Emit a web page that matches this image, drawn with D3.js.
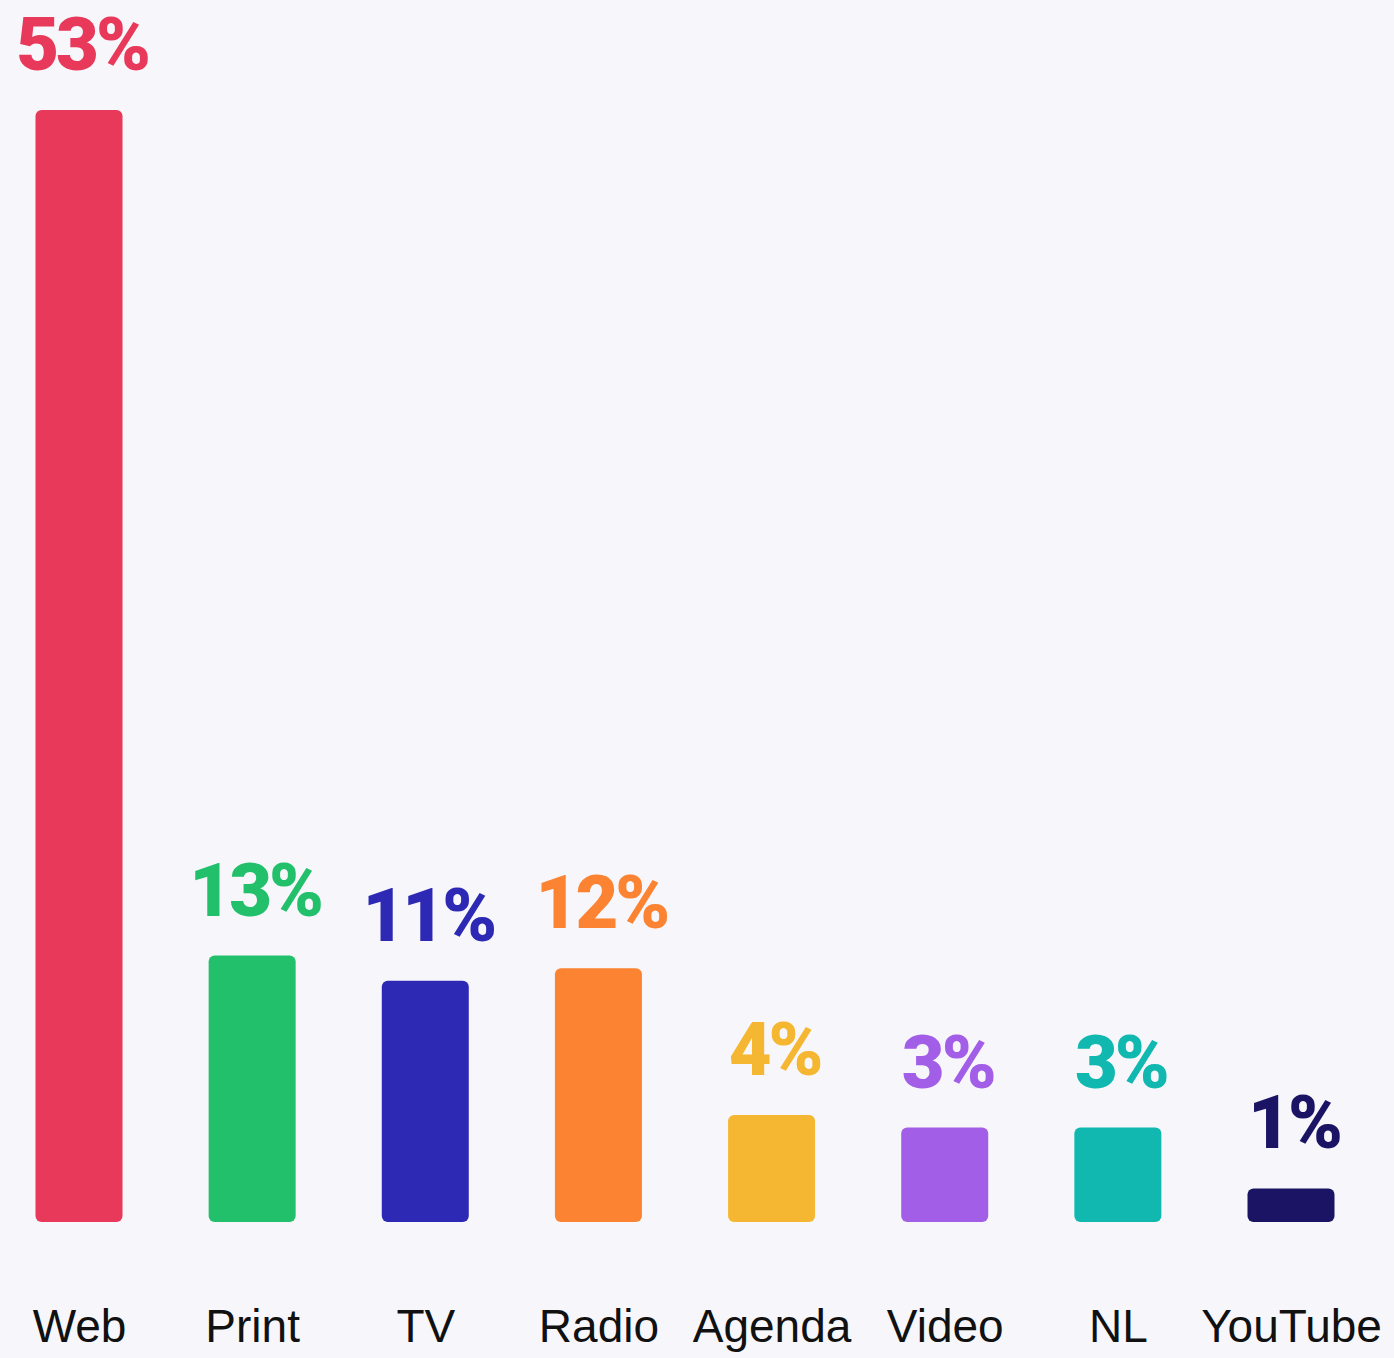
<!DOCTYPE html>
<html>
<head>
<meta charset="utf-8">
<script src="https://cdn.jsdelivr.net/npm/d3@7"></script>
<style>
  html, body { margin: 0; padding: 0; background: #F7F7FB; }
  svg { display: block; }
</style>
</head>
<body>
<svg id="chart" width="1394" height="1358"></svg>
<script>
const categories = ["Web", "Print", "TV", "Radio", "Agenda", "Video", "NL", "YouTube"];
// bar lengths (percent)
const values = [53, 12.7, 11.5, 12.1, 5.1, 4.5, 4.5, 1.6];
// value labels as printed above each bar
const valueLabels = ["53%", "13%", "11%", "12%", "4%", "3%", "3%", "1%"];
const colors = ["#E8395A", "#22C06B", "#2D29B5", "#FB8331", "#F5B731", "#A25EE6", "#10B8B0", "#1B1464"];

const svg = d3.select("#chart");
const baseline = 1222, topY = 110;
const barW = 87;

const x = d3.scalePoint().domain(categories).range([79, 1291]);
const y = d3.scaleLinear().domain([0, 53]).range([baseline, topY]);

const data = categories.map((c, i) => ({ c, v: values[i], label: valueLabels[i], color: colors[i] }));

svg.append("g").selectAll("rect").data(data).join("rect")
  .attr("x", d => x(d.c) - barW / 2)
  .attr("y", d => y(d.v))
  .attr("width", barW)
  .attr("height", d => baseline - y(d.v))
  .attr("rx", 6).attr("ry", 6)
  .attr("fill", d => d.color);

svg.append("g").selectAll("text").data(data).join("text")
  .attr("x", d => x(d.c) + 3)
  .attr("y", d => y(d.v) - 40)
  .attr("text-anchor", "middle")
  .attr("fill", d => d.color)
  .style("font-family", "Roboto, 'Liberation Sans', sans-serif")
  .style("font-weight", 900)
  .style("font-size", "74px")
  .style("letter-spacing", "-3px")
  .text(d => d.label);

const xAxis = d3.axisBottom(x).tickSize(0).tickPadding(0);
const gx = svg.append("g").attr("transform", "translate(0,1309)").call(xAxis);
gx.select(".domain").remove();
gx.selectAll("text")
  .attr("dy", "0.71em")
  .attr("fill", "#111")
  .style("font-family", "'Liberation Sans', Arial, sans-serif")
  .style("font-size", "46px");
</script>
</body>
</html>
